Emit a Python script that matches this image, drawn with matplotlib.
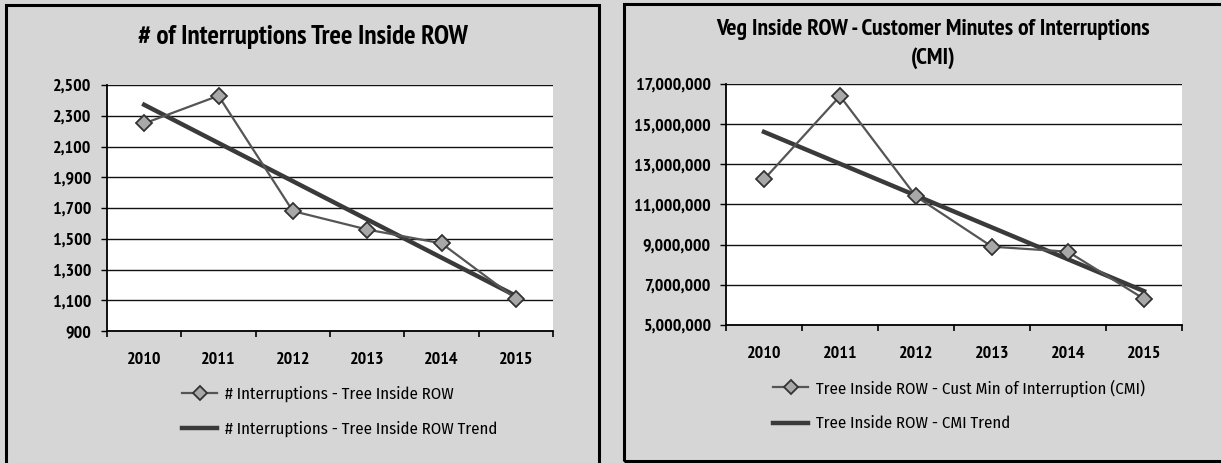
import numpy as np
import matplotlib
matplotlib.use("Agg")
import matplotlib.pyplot as plt
from matplotlib.patches import Rectangle
from matplotlib.ticker import FuncFormatter, FixedLocator

years = ["2010", "2011", "2012", "2013", "2014", "2015"]
interruptions = [2250, 2430, 1680, 1560, 1470, 1110]
cmi = [12250000, 16400000, 11400000, 8900000, 8650000, 6300000]

title_left = "# of Interruptions Tree Inside ROW"
title_right = "Veg Inside ROW - Customer Minutes of Interruptions\n(CMI)"
legend_left = ["# Interruptions - Tree Inside ROW", "# Interruptions - Tree Inside ROW Trend"]
legend_right = ["Tree Inside ROW - Cust Min of Interruption (CMI)", "Tree Inside ROW - CMI Trend"]
yticks_left = [900, 1100, 1300, 1500, 1700, 1900, 2100, 2300, 2500]
yticks_right = [5000000, 7000000, 9000000, 11000000, 13000000, 15000000, 17000000]

FONT = ["PT Sans Narrow", "DejaVu Sans"]
LEGFONT = ["Fira Sans Condensed", "PT Sans Narrow", "DejaVu Sans"]
plt.rcParams["font.family"] = FONT

BG = "#d6d6d6"
fig = plt.figure(figsize=(12.21, 4.63), dpi=100, facecolor=BG)
W, H = 1221, 463

# panel borders
fig.patches.append(Rectangle((6 / W, -0.05), (599 - 6) / W, 1 - 5 / H + 0.05,
                             transform=fig.transFigure, fill=False, ec="black", lw=2.2))
fig.patches.append(Rectangle((624 / W, 1 - 461 / H), 0.6, (461 - 4) / H,
                             transform=fig.transFigure, fill=False, ec="black", lw=2.2))


def panel(rect, values, yticks, title, title_xy, title_size, labels, leg_xy, fmt):
    ax = fig.add_axes(rect)
    ax.set_facecolor("white")
    x = np.arange(len(values))
    coef = np.polyfit(x, values, 1)
    trend = np.polyval(coef, x)
    l1, = ax.plot(x, values, color="#555555", lw=1.6, marker="D", ms=8,
                  mfc="#a8a8a8", mec="#333333", mew=1.3, zorder=4)
    l2, = ax.plot(x, trend, color="#3a3a3a", lw=3.2, zorder=3)
    ax.set_xlim(-0.5, len(values) - 0.5)
    ax.set_ylim(yticks[0], yticks[-1])
    ax.set_yticks(yticks)
    ax.yaxis.set_major_formatter(FuncFormatter(fmt))
    ax.set_xticks(x)
    ax.set_xticklabels(years)
    ax.xaxis.set_minor_locator(FixedLocator(np.arange(-0.5, len(values), 1.0)))
    ax.tick_params(axis="x", which="major", length=0, pad=15, labelsize=13)
    ax.tick_params(axis="x", which="minor", length=4, width=1.2, direction="out")
    ax.tick_params(axis="y", length=4, width=1, pad=7, labelsize=13)
    for lab in ax.get_xticklabels() + ax.get_yticklabels():
        lab.set_fontweight("bold")
    ax.grid(axis="y", color="#111111", lw=1.0)
    ax.set_axisbelow(True)
    for s in ["top", "right"]:
        ax.spines[s].set_visible(False)
    ax.spines["left"].set_linewidth(1.3)
    ax.spines["bottom"].set_linewidth(1.3)
    fig.text(title_xy[0], title_xy[1], title, ha="center", va="center",
             fontsize=title_size, fontweight="bold", linespacing=1.4)
    fig.legend([l1, l2], labels, loc="center left", bbox_to_anchor=leg_xy,
               bbox_transform=fig.transFigure, frameon=False,
               prop={"family": LEGFONT, "size": 12},
               handlelength=2.1, handletextpad=0.5, labelspacing=1.15,
               borderpad=0, borderaxespad=0, markerscale=0.9)
    return ax


panel([107 / W, 1 - 331 / H, (553 - 107) / W, (331 - 85) / H], interruptions,
      yticks_left, title_left, (303 / W, 1 - 37 / H), 19.5, legend_left,
      (182 / W, 1 - 411.5 / H), lambda v, p: f"{int(v):,}")

panel([726 / W, 1 - 325 / H, (1182 - 726) / W, (325 - 84) / H], cmi,
      yticks_right, title_right, (933 / W, 1 - 44 / H), 17, legend_right,
      (773 / W, 1 - 405.5 / H), lambda v, p: f"{int(v):,}")

fig.savefig("out.png", dpi=100, facecolor=BG)
